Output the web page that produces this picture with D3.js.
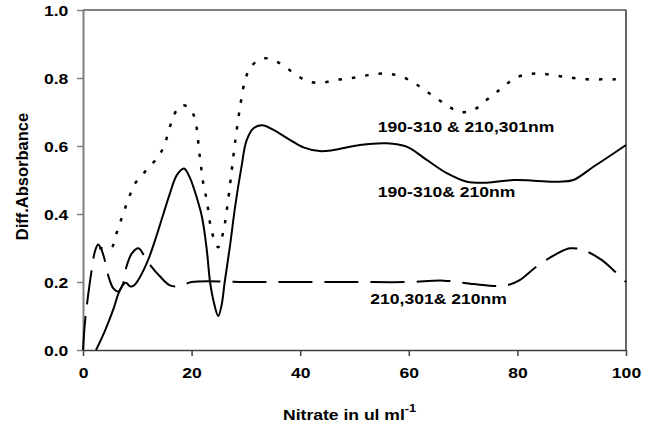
<!DOCTYPE html>
<html>
<head>
<meta charset="utf-8">
<script src="https://cdn.jsdelivr.net/npm/d3@7"></script>
<style>
  html, body { margin: 0; padding: 0; background: #fff; }
  svg { display: block; }
  text { font-family: "Liberation Sans", Arial, sans-serif; font-weight: bold; fill: #000; }
</style>
</head>
<body>
<svg id="chart" width="651" height="429"></svg>
<script>
// ---- data ----
const dottedX = [3, 5.2, 6, 6.8, 7.6, 8.5, 9.6, 11.4, 13.6, 14.8, 16.3, 17.5, 18.5, 19.7, 20.6, 21.5, 22.2, 22.8, 23.4, 24, 24.9, 25.8, 26.8, 27.4, 28, 28.9, 29.8, 30.9, 33.2, 35.7, 38.4, 40.9, 43.6, 46.4, 49.2, 51.6, 54.1, 56.5, 59, 61.5, 64.2, 67, 69.4, 71.9, 74.3, 77.1, 79.6, 82.3, 84.8, 87.6, 90.3, 92.8, 95.5, 98, 100];
const dottedY = [0.30, 0.30, 0.335, 0.373, 0.41, 0.45, 0.49, 0.524, 0.564, 0.595, 0.67, 0.712, 0.72, 0.71, 0.68, 0.57, 0.485, 0.44, 0.373, 0.333, 0.302, 0.345, 0.45, 0.53, 0.61, 0.712, 0.79, 0.833, 0.858, 0.848, 0.819, 0.794, 0.785, 0.794, 0.799, 0.806, 0.812, 0.812, 0.802, 0.78, 0.75, 0.72, 0.70, 0.706, 0.735, 0.77, 0.80, 0.812, 0.812, 0.806, 0.80, 0.796, 0.796, 0.796, 0.797];

const solidX = [2.4, 4, 5.6, 6.5, 7.3, 7.9, 8.7, 9.4, 10.5, 12, 13.3, 14.8, 16, 17.3, 18.6, 19.6, 20.6, 21.9, 22.8, 23.4, 24.1, 24.9, 25.5, 26.1, 27.1, 28, 29.2, 30.1, 31.4, 33, 35, 38.1, 40.6, 43.6, 46.1, 51, 55.9, 59.6, 63.3, 67, 70.7, 74.3, 79.3, 83, 87.8, 90.3, 94, 97.7, 100];
const solidY = [0, 0.055, 0.12, 0.165, 0.19, 0.198, 0.187, 0.19, 0.215, 0.265, 0.324, 0.40, 0.46, 0.515, 0.534, 0.51, 0.466, 0.392, 0.294, 0.2, 0.14, 0.1, 0.13, 0.2, 0.31, 0.42, 0.54, 0.615, 0.652, 0.661, 0.648, 0.618, 0.596, 0.585, 0.588, 0.603, 0.608, 0.598, 0.559, 0.52, 0.495, 0.492, 0.50, 0.498, 0.495, 0.50, 0.539, 0.578, 0.603];

const dashedX = [0, 0.3, 0.7, 1.6, 2.2, 2.8, 3.4, 4, 4.7, 5.6, 6.5, 7.4, 8, 9, 10.2, 11.4, 12.6, 14.2, 16, 17.9, 20, 30, 40, 50, 60, 66.4, 71.9, 76.2, 78.3, 80.5, 83.5, 86.9, 89.7, 92.1, 95.5, 98, 100];
const dashedY = [0, 0.07, 0.13, 0.235, 0.29, 0.31, 0.295, 0.265, 0.216, 0.181, 0.172, 0.196, 0.245, 0.284, 0.299, 0.274, 0.245, 0.216, 0.19, 0.188, 0.2, 0.2, 0.2, 0.2, 0.2, 0.204, 0.194, 0.188, 0.191, 0.206, 0.245, 0.28, 0.299, 0.294, 0.265, 0.23, 0.2];

const xTicks = [0, 20, 40, 60, 80, 100];
const yTicks = [0, 0.2, 0.4, 0.6, 0.8, 1.0];

const labelTexts = ["190-310 & 210,301nm", "190-310& 210nm", "210,301& 210nm"];
// label anchor positions in data units
const labelX = [54.3, 54.3, 52.9];
const labelY = [0.641, 0.45, 0.135];

const xTitle = "Nitrate in ul ml";
const xTitleSup = "-1";
const yTitle = "Diff.Absorbance";

(function () {
  const svg = d3.select("#chart");
  const W = 651, H = 429;
  const mLeft = 83, mRight = 626, mTop = 10, mBottom = 350;
  const SX = 1.17; // horizontal glyph stretch of the reference

  svg.append("rect").attr("width", W).attr("height", H).attr("fill", "#fff");

  const x = d3.scaleLinear().domain([0, 100]).range([mLeft, mRight]);
  const y = d3.scaleLinear().domain([0, 1]).range([mBottom, mTop]);

  // frame (top, right)
  svg.append("line").attr("x1", mLeft).attr("x2", mRight).attr("y1", mTop).attr("y2", mTop)
    .attr("stroke", "#000").attr("stroke-width", 1.2);
  svg.append("line").attr("x1", mRight).attr("x2", mRight).attr("y1", mTop).attr("y2", mBottom)
    .attr("stroke", "#000").attr("stroke-width", 1.2);

  // y axis
  const yAxis = svg.append("g").attr("transform", `translate(${mLeft},0)`)
    .call(d3.axisLeft(y).tickValues(yTicks).tickFormat(d3.format(".1f")).tickSize(6).tickSizeOuter(0));
  yAxis.select(".domain").attr("stroke", "#808080").attr("stroke-width", 2);
  yAxis.selectAll(".tick line").attr("stroke", "#808080").attr("stroke-width", 1.5);
  yAxis.selectAll(".tick text")
    .attr("font-size", 15).attr("font-family", "Liberation Sans, Arial, sans-serif").attr("font-weight", "bold")
    .attr("fill", "#000")
    .attr("x", -14.7 / SX).attr("dy", "0.36em")
    .attr("transform", `scale(${SX},1)`);

  // x axis
  const xAxis = svg.append("g").attr("transform", `translate(0,${mBottom})`)
    .call(d3.axisBottom(x).tickValues(xTicks).tickFormat(d3.format("d")).tickSize(6).tickSizeOuter(0));
  xAxis.select(".domain").attr("stroke", "#404040").attr("stroke-width", 1.5);
  xAxis.selectAll(".tick line").attr("stroke", "#404040").attr("stroke-width", 1.5);
  xAxis.selectAll(".tick text")
    .attr("font-size", 15).attr("font-family", "Liberation Sans, Arial, sans-serif").attr("font-weight", "bold")
    .attr("fill", "#000")
    .attr("y", 17.3)
    .attr("transform", `scale(${SX},1)`);

  // lines
  const line = d3.line().x(d => x(d[0])).y(d => y(d[1])).curve(d3.curveCatmullRom.alpha(0.5));
  const zip = (a, b) => a.map((v, i) => [v, b[i]]);

  svg.append("path").datum(zip(dashedX, dashedY))
    .attr("d", line).attr("fill", "none").attr("stroke", "#000").attr("stroke-width", 2)
    .attr("stroke-dasharray", "34,12");

  svg.append("path").datum(zip(dottedX, dottedY))
    .attr("d", line).attr("fill", "none").attr("stroke", "#000").attr("stroke-width", 2.5)
    .attr("stroke-dasharray", "3.5,10");

  svg.append("path").datum(zip(solidX, solidY))
    .attr("d", line).attr("fill", "none").attr("stroke", "#000").attr("stroke-width", 2);

  // annotations
  labelTexts.forEach((t, i) => {
    svg.append("text")
      .attr("transform", `translate(${x(labelX[i])},${y(labelY[i])}) scale(${SX},1)`)
      .attr("font-size", 15)
      .text(t);
  });

  // x title
  const xt = svg.append("text")
    .attr("transform", `translate(283,420) scale(${SX},1)`)
    .attr("font-size", 15);
  xt.append("tspan").text(xTitle);
  xt.append("tspan").attr("font-size", 11).attr("dy", -8).text(xTitleSup);

  // y title
  svg.append("text")
    .attr("transform", `translate(28,176.5) rotate(-90)`)
    .attr("text-anchor", "middle")
    .attr("font-size", 16.5)
    .text(yTitle);
})();
</script>
</body>
</html>
